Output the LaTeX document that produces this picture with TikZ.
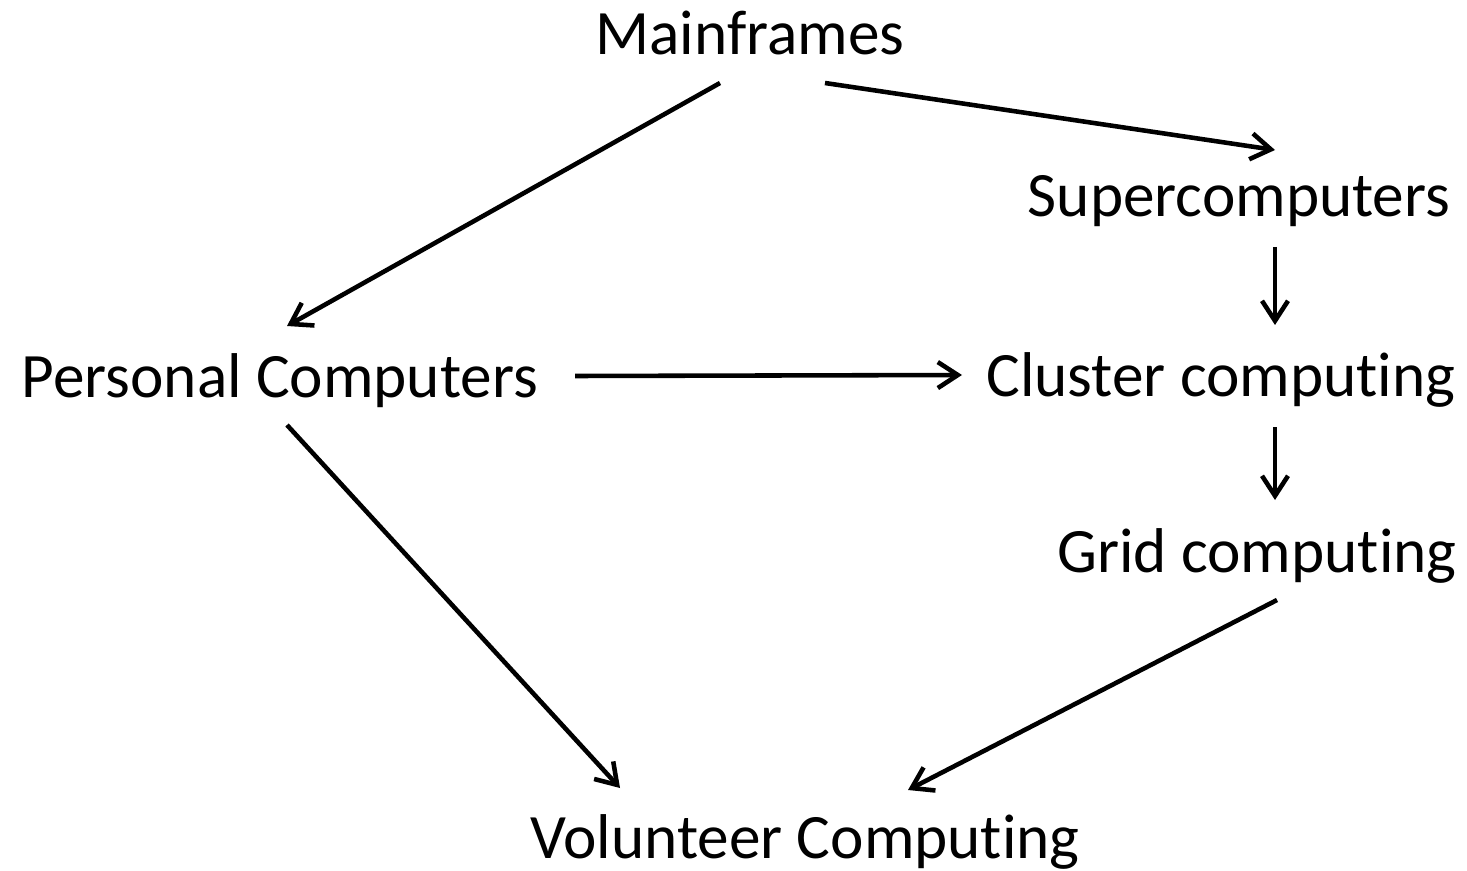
\documentclass[tikz,border=0pt]{standalone}
\usepackage{fontspec}
\setmainfont{Carlito}[Ligatures=NoCommon]
\usetikzlibrary{arrows.meta,calc}
\tikzset{
  era/.style={anchor=base,inner sep=0pt,font=\fontsize{36}{40}\selectfont,text=black},
  evolarr/.style={-{Straight Barb[length=4mm,width=5.2mm,line width=2.6pt]},
                  line width=2.6pt,draw=black}
}
\begin{document}
\begin{tikzpicture}[x=0.02cm,y=-0.02cm]
    \path[use as bounding box,fill=white] (0,0) rectangle (1467,871);
    \node[era] (main) at (750,55) {Mainframes};
    \node[era] (super) at (1239,217) {Supercomputers};
    \node[era] (pc) at (280,398) {Personal Computers};
    \node[era] (cluster) at (1221,397) {Cluster computing};
    \node[era] (grid) at (1257,572) {Grid computing};
    \node[era] (vol) at (805,858) {Volunteer Computing};

    \draw[evolarr] ($(main.base)+(-30,28)$) -- ($(pc.base)+(7,-72)$);
    \draw[evolarr] ($(main.base)+(75,28)$) -- ($(super.base)+(36,-67)$);
    \draw[evolarr] ($(super.base)+(36,30)$) -- ($(cluster.base)+(54,-72)$);
    \draw[evolarr] ($(pc.base)+(295,-22)$) -- ($(cluster.base)+(-259,-22)$);
    \draw[evolarr] ($(cluster.base)+(54,30)$) -- ($(grid.base)+(18,-72)$);
    \draw[evolarr] ($(pc.base)+(7,27)$) -- ($(vol.base)+(-185,-70)$);
    \draw[evolarr] ($(grid.base)+(20,28)$) -- ($(vol.base)+(103,-68)$);
  \end{tikzpicture}
\end{document}
